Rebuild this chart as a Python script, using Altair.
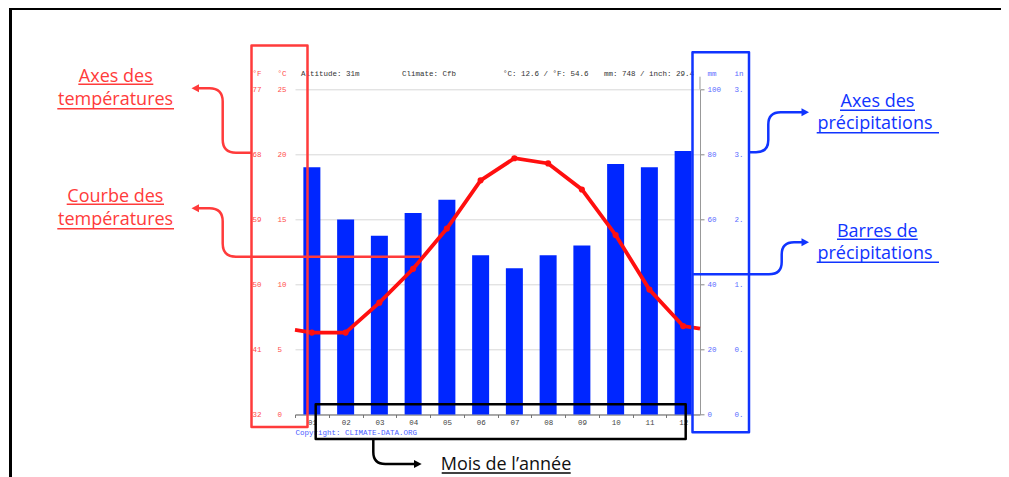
import altair as alt
import pandas as pd

# ---------------- data ----------------
months = ["01", "02", "03", "04", "05", "06", "07", "08", "09", "10", "11", "12"]
month_num = list(range(1, 13))
precip_mm = [76, 60, 55, 62, 66, 49, 45, 49, 52, 77, 76, 81]
temp_c = [6.3, 6.3, 8.6, 11.2, 14.3, 18.0, 19.7, 19.3, 17.3, 13.8, 9.6, 6.8]
edge_temp_c = [6.5, 6.6]          # where the curve meets the left / right frame
temp_ticks = [0, 5, 10, 15, 20, 25]
precip_ticks = [0, 20, 40, 60, 80, 100]
header_texts = ["Altitude: 31m", "Climate: Cfb", "°C: 12.6 / °F: 54.6", "mm: 748 / inch: 29.4"]
copyright_text = "Copyright: CLIMATE-DATA.ORG"

# ---------------- layout / style ----------------
OX, OY = 295.0, 89.3        # page position of the plot origin
W, H = 405, 325.2
MONO = "Liberation Mono"
FS = 7.5
ANN_FONT = "Open Sans"
RED_ANN = "#ff3b3b"
BLUE_ANN = "#1034ff"
BAR = "#0026ff"
LINE_RED = "#ff0f0f"
TEMP_LBL = "#ff4d4d"
PREC_LBL = "#5b6bff"

df = pd.DataFrame({"m": month_num, "p": precip_mm, "t": temp_c, "lab": months})
df_line = pd.DataFrame({
    "m": [0.5] + month_num + [12.5],
    "t": [edge_temp_c[0]] + temp_c + [edge_temp_c[1]],
})
one = pd.DataFrame({"k": [0]})

xscale = alt.Scale(domain=[0.5, 12.5], nice=False, zero=False, padding=0)
tscale = alt.Scale(domain=[0, 25], nice=False)
pscale = alt.Scale(domain=[0, 100], nice=False)

xaxis = alt.Axis(
    values=[v + 0.5 for v in range(12)],
    labelExpr="datum.value < 9 ? '0' + (datum.value + 0.5) : '' + (datum.value + 0.5)",
    labelOffset=W / 24, labelFlush=False, labelOverlap=False,
    labelFont=MONO, labelFontSize=FS, labelColor="#444", labelBaseline="middle",
    labelPadding=5, tickSize=3, tickColor="#777", domainColor="#666", grid=False,
    title=copyright_text, titleX=0, titleY=18.3, titleAlign="left", titleBaseline="middle",
    titleFont=MONO, titleFontSize=FS, titleFontWeight="normal", titleColor="#4a5cff",
)
xenc = alt.X("m:Q", scale=xscale, axis=xaxis)

c_axis = alt.Axis(
    orient="left", values=temp_ticks, labelAlign="left", labelBaseline="middle",
    labelPadding=18, tickSize=0, domain=False, grid=True, gridColor="#d8d8d8",
    labelFont=MONO, labelFontSize=FS, labelColor=TEMP_LBL,
    title="°C", titleAngle=0, titleX=-18, titleY=-15.6, titleAlign="left",
    titleBaseline="middle", titleFont=MONO, titleFontSize=FS, titleFontWeight="normal",
    titleColor=TEMP_LBL,
)
f_axis = alt.Axis(
    orient="left", values=temp_ticks, labelAlign="left", labelBaseline="middle",
    labelPadding=43, tickSize=0, domain=False, grid=False,
    labelExpr="format(datum.value * 9 / 5 + 32, 'd')",
    labelFont=MONO, labelFontSize=FS, labelColor=TEMP_LBL,
    title="°F", titleAngle=0, titleX=-43, titleY=-15.6, titleAlign="left",
    titleBaseline="middle", titleFont=MONO, titleFontSize=FS, titleFontWeight="normal",
    titleColor=TEMP_LBL,
)
mm_axis = alt.Axis(
    orient="right", values=precip_ticks, labelAlign="left", labelBaseline="middle",
    labelPadding=3, tickSize=4, tickColor="#888", domain=True, domainColor="#999", grid=False,
    labelFont=MONO, labelFontSize=FS, labelColor=PREC_LBL,
    title="mm", titleAngle=0, titleX=7, titleY=-15.6, titleAlign="left",
    titleBaseline="middle", titleFont=MONO, titleFontSize=FS, titleFontWeight="normal",
    titleColor=PREC_LBL,
)
in_axis = alt.Axis(
    orient="right", values=precip_ticks, labelAlign="left", labelBaseline="middle",
    labelPadding=34, tickSize=0, domain=False, grid=False,
    labelExpr="substring(format(datum.value / 25.4, '.1f'), 0, 2)",
    labelFont=MONO, labelFontSize=FS, labelColor=PREC_LBL,
    title="in", titleAngle=0, titleX=34, titleY=-15.6, titleAlign="left",
    titleBaseline="middle", titleFont=MONO, titleFontSize=FS, titleFontWeight="normal",
    titleColor=PREC_LBL,
)

bars = alt.Chart(df).mark_bar(size=17, color=BAR).encode(
    x=xenc, y=alt.Y("p:Q", scale=pscale, axis=mm_axis))
in_dummy = alt.Chart(df).mark_point(opacity=0).encode(
    x=xenc, y=alt.Y("p:Q", scale=pscale, axis=in_axis))
line = alt.Chart(df_line).mark_line(color=LINE_RED, strokeWidth=3.8).encode(
    x=xenc, y=alt.Y("t:Q", scale=tscale, axis=c_axis))
f_dummy = alt.Chart(df).mark_point(opacity=0).encode(
    x=xenc, y=alt.Y("t:Q", scale=tscale, axis=f_axis))
pts = alt.Chart(df).mark_circle(size=38, color=LINE_RED, opacity=1).encode(
    x=xenc, y=alt.Y("t:Q", scale=tscale, axis=None))


# ---------------- annotation helpers (page coordinates) ----------------
def P(x, y):
    return f"{x - OX:.1f} {y - OY:.1f}"


def path_layer(d, color, width=2.5, filled=False):
    if filled:
        mk = alt.Chart(one).mark_point(shape=d, size=4, filled=True, fill=color,
                                        strokeWidth=0, opacity=1)
    else:
        mk = alt.Chart(one).mark_point(shape=d, size=4, filled=False, stroke=color,
                                        strokeWidth=width, opacity=1,
                                        strokeJoin="round", strokeCap="butt")
    return mk.encode(x=alt.value(0), y=alt.value(0))


def text_layer(txt, x, y, color, size, font, align="center", weight="normal", baseline="alphabetic"):
    return alt.Chart(one).mark_text(
        text=txt, align=align, baseline=baseline, color=color, fontSize=size,
        font=font, fontWeight=weight,
    ).encode(x=alt.value(x - OX), y=alt.value(y - OY))


def underline(x1, x2, y):
    return f"M {P(x1, y)} L {P(x2, y)} "


# header texts
header_x = [301, 402, 503, 604]
headers = [text_layer(t, hx, 73.7, "#333", FS, MONO, align="left", baseline="middle")
           for t, hx in zip(header_texts, header_x)]

# right axis line continues above the plot
axis_ext = path_layer(f"M {P(700, 76.7)} L {P(700, 89.3)}", "#999", width=1)

# red annotations
red_d = (
    f"M {P(251.5, 45.5)} L {P(307.5, 45.5)} L {P(307.5, 427)} L {P(251.5, 427)} Z "
    f"M {P(251.5, 152.7)} L {P(236, 152.7)} Q {P(222.7, 152.7)} {P(222.7, 139.5)} "
    f"L {P(222.7, 101.5)} Q {P(222.7, 88.3)} {P(209.5, 88.3)} L {P(197, 88.3)} "
    f"M {P(420, 256.7)} L {P(236, 256.7)} Q {P(222.7, 256.7)} {P(222.7, 243.5)} "
    f"L {P(222.7, 221.5)} Q {P(222.7, 208.3)} {P(209.5, 208.3)} L {P(197, 208.3)} "
)
red_heads = (
    f"M {P(191.5, 88.3)} L {P(199, 84.3)} L {P(199, 92.3)} Z "
    f"M {P(191.5, 208.3)} L {P(199, 204.3)} L {P(199, 212.3)} Z"
)
red_ul = (underline(78.3, 153.3, 84.3) + underline(57.3, 174, 108.8) +
          underline(66.7, 164, 204.3) + underline(57.3, 174, 228.8))

blue_d = (
    f"M {P(692.5, 52.3)} L {P(749, 52.3)} L {P(749, 432.3)} L {P(692.5, 432.3)} Z "
    f"M {P(749, 152.3)} L {P(756, 152.3)} Q {P(768.3, 152.3)} {P(768.3, 140)} "
    f"L {P(768.3, 124.6)} Q {P(768.3, 112.3)} {P(780.6, 112.3)} L {P(802, 112.3)} "
    f"M {P(693, 274.3)} L {P(769, 274.3)} Q {P(781.7, 274.3)} {P(781.7, 262)} "
    f"L {P(781.7, 254.6)} Q {P(781.7, 242.3)} {P(794, 242.3)} L {P(802, 242.3)} "
)
blue_heads = (
    f"M {P(809, 112.3)} L {P(801.5, 108.3)} L {P(801.5, 116.3)} Z "
    f"M {P(809, 242.3)} L {P(801.5, 238.3)} L {P(801.5, 246.3)} Z"
)
blue_ul = (underline(840, 915, 110.3) + underline(816.7, 939, 132.8) +
           underline(837, 917.7, 239.3) + underline(816.7, 939, 262.3))

black_d = (
    f"M {P(315.7, 404.3)} L {P(685.7, 404.3)} L {P(685.7, 439)} L {P(315.7, 439)} Z "
    f"M {P(373.3, 439)} L {P(373.3, 452)} Q {P(373.3, 464)} {P(385.3, 464)} L {P(414, 464)} "
)
black_heads = f"M {P(421.7, 464)} L {P(414, 460)} L {P(414, 468)} Z"
black_ul = underline(441.7, 570.7, 473)
frame_d = f"M {P(10.5, 477)} L {P(10.5, 8.5)} L {P(1009, 8.5)}"

ann_size = 18
ann_texts = [
    text_layer("Axes des", 115.8, 82.3, RED_ANN, ann_size, ANN_FONT, weight=500),
    text_layer("températures", 115.6, 104.8, RED_ANN, ann_size, ANN_FONT, weight=500),
    text_layer("Courbe des", 115.4, 202.3, RED_ANN, ann_size, ANN_FONT, weight=500),
    text_layer("températures", 115.6, 224.8, RED_ANN, ann_size, ANN_FONT, weight=500),
    text_layer("Axes des", 877.5, 107.3, BLUE_ANN, ann_size, ANN_FONT, weight=500),
    text_layer("précipitations", 875, 129.3, BLUE_ANN, ann_size, ANN_FONT, weight=500),
    text_layer("Barres de", 877.3, 236.7, BLUE_ANN, ann_size, ANN_FONT, weight=500),
    text_layer("précipitations", 875, 258.8, BLUE_ANN, ann_size, ANN_FONT, weight=500),
    text_layer("Mois de l’année", 506, 469.5, "#111", ann_size, ANN_FONT, weight=500),
]

annotations = [
    path_layer(red_d, RED_ANN), path_layer(red_heads, RED_ANN, filled=True),
    path_layer(red_ul, RED_ANN, width=1.6),
    path_layer(blue_d, BLUE_ANN), path_layer(blue_heads, BLUE_ANN, filled=True),
    path_layer(blue_ul, BLUE_ANN, width=1.6),
    path_layer(black_d, "#000"), path_layer(black_heads, "#000", filled=True),
    path_layer(black_ul, "#000", width=1.6),
    path_layer(frame_d, "#000", width=3),
]

chart = alt.layer(
    bars, in_dummy, line, f_dummy, pts, axis_ext, *headers, *annotations, *ann_texts
).resolve_scale(y="independent").properties(
    width=W, height=H,
    autosize=alt.AutoSizeParams(type="none"),
    padding={"left": OX - 8, "top": OY - 8, "right": 993 - (OX - 8) - W,
             "bottom": 469 - (OY - 8) - H},
    background="white",
).configure_view(stroke=None)

chart.save("out.html", embed_options={"renderer": "svg", "actions": False})
